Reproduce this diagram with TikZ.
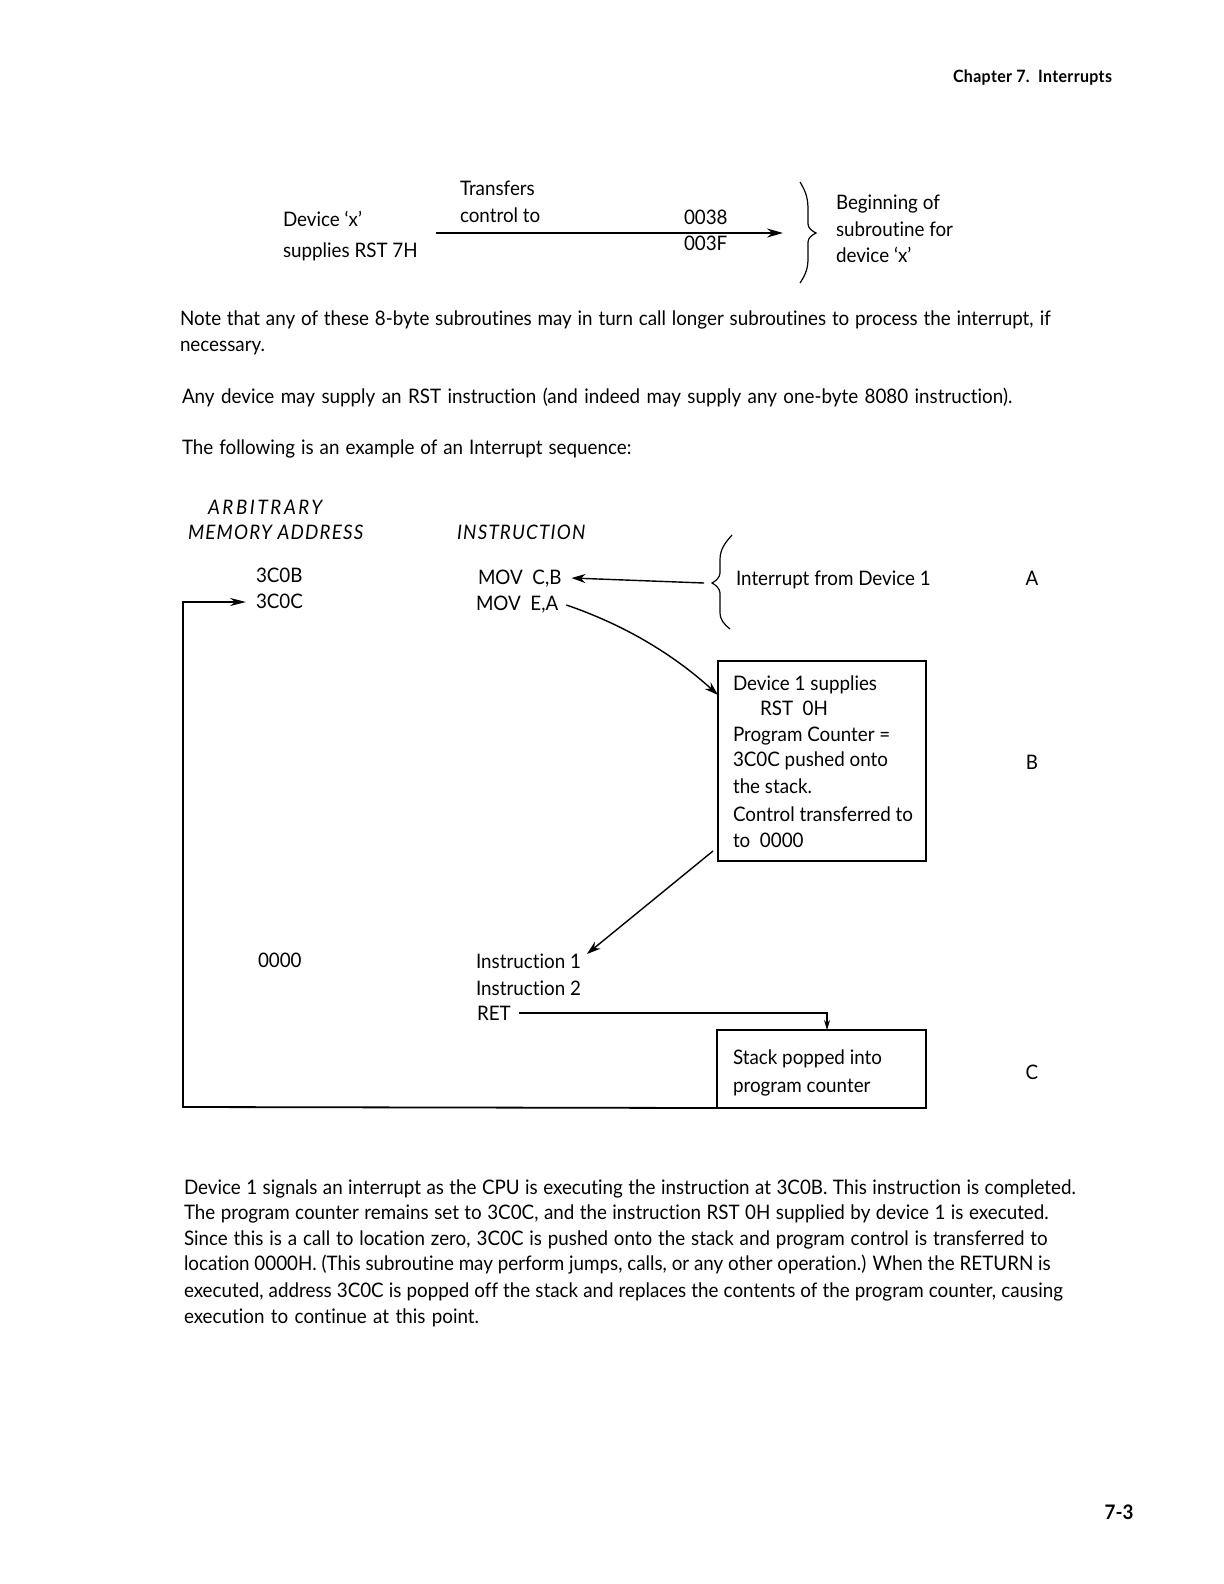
\documentclass[tikz,border=0pt]{standalone}
\usepackage{fontspec}
\setmainfont{Lato}[FakeStretch=0.94,Ligatures=NoCommon]
\usetikzlibrary{arrows.meta}
\newcommand\txt{\fontsize{10}{12}\selectfont}
\newcommand\jline[2]{\makebox[#1][s]{#2}}
\begin{document}
\begin{tikzpicture}[x=0.5pt,y=-0.5pt,
  every node/.style={inner sep=0pt,outer sep=0pt},
  lbl/.style={anchor=base west,font=\txt},
  ctr/.style={anchor=base,font=\txt},
  hdit/.style={anchor=base west,font=\txt\itshape\addfontfeatures{LetterSpace=6}},
  boxst/.style={draw,line width=0.9pt,anchor=north west},
  arr/.style={line width=0.7pt,-{Stealth[length=7pt,width=4.5pt]}},
  brace/.style={line width=0.6pt}]
\useasboundingbox (0,0) rectangle (1224,1584);
% header
\node[anchor=base west,font=\fontsize{8.5}{10}\selectfont\bfseries\addfontfeatures{LetterSpace=2}] (hdr) at (953,83) {Chapter 7.~~Interrupts};
% top diagram
\node[lbl] (transfers) at (460,195) {Transfers};
\node[lbl] (controlto) at (460,222) {control to};
\node[lbl] (devx) at (283,226) {Device ‘x’};
\node[lbl] (supplies) at (283,257) {supplies RST 7H};
\node[lbl] (n38) at (684,224) {0038};
\node[lbl] (n3f) at (684,250) {003F};
\node[lbl] (begin) at (836,209) {Beginning of};
\node[lbl] (subfor) at (836,236) {subroutine for};
\node[lbl] (devx2) at (836,262) {device ‘x’};
\coordinate (ta) at (436,233);
\coordinate (tb) at (783,233);
\draw[line width=1.1pt,-{Stealth[length=8pt,width=4.5pt]}] (ta) -- (tb);
\draw[brace] (800,182) .. controls (806,192) and (808,198) .. (808,210) -- (808,224) .. controls (808,228) and (812,231) .. (816,233)
  .. controls (812,235) and (808,238) .. (808,242) -- (808,258) .. controls (808,268) and (806,274) .. (800,283);
% paragraphs
\node[lbl] (p1) at (180,325) {\jline{435.3pt}{Note that any of these 8-byte subroutines may in turn call longer subroutines to process the interrupt, if}};
\node[lbl] (p1b) at (180,351) {necessary.};
\node[lbl] (p2) at (182,403) {\jline{415.1pt}{Any device may supply an RST instruction (and indeed may supply any one-byte 8080 instruction).}};
\node[lbl] (p3) at (182,454) {\jline{224.7pt}{The following is an example of an Interrupt sequence:}};
% lower diagram
\node[lbl,font=\txt\itshape\addfontfeatures{LetterSpace=13}] (arb) at (208,514) {ARBITRARY};
\node[hdit] (mem) at (188,539) {MEMORY ADDRESS};
\node[hdit] (instr) at (457,539) {INSTRUCTION};
\node[lbl] (a3c0b) at (256,582) {3C0B};
\node[lbl] (a3c0c) at (256,608) {3C0C};
\node[lbl] (movcb) at (478,584) {MOV~~C,B};
\node[lbl] (movea) at (476,610) {MOV~~E,A};
\node[lbl] (intr) at (736,585) {Interrupt from Device 1};
\node[ctr] (la) at (1032,585) {A};
\coordinate (ib) at (704,583);
\draw[arr] (ib) -- ([xshift=5pt,yshift=3pt]movcb.base east);
\draw[brace] (732,535) .. controls (724,544) and (720,550) .. (720,560) -- (720,573) .. controls (720,577) and (716,581) .. (712,583)
  .. controls (716,585) and (720,589) .. (720,593) -- (720,612) .. controls (720,620) and (724,624) .. (730,629);
% box B
\node[boxst,minimum width=104pt,minimum height=100pt] (boxB) at (718,661) {};
\node[lbl] (b1) at (733,690) {Device 1 supplies};
\node[lbl] (b2) at (760,715) {RST~~0H};
\node[lbl] (b3) at (733,741) {Program Counter =};
\node[lbl] (b4) at (733,766) {3C0C pushed onto};
\node[lbl] (b5) at (733,793) {the stack.};
\node[lbl] (b6) at (733,821) {Control transferred to};
\node[lbl] (b7) at (733,847) {to~~0000};
\node[ctr] (lb) at (1032,769) {B};
\draw[arr] ([xshift=4pt,yshift=2.5pt]movea.base east) .. controls (625,625) and (674,655) .. ([yshift=-17pt]boxB.north west);
% lower part
\node[lbl] (a0000) at (258,967) {0000};
\node[lbl] (instr1) at (476,968) {Instruction 1};
\node[lbl] (instr2) at (476,995) {Instruction 2};
\node[lbl] (ret) at (477,1020) {RET};
\draw[arr] ([xshift=-2.5pt,yshift=5pt]boxB.south west) -- ([xshift=3pt,yshift=7pt]instr1.base east);
\node[boxst,minimum width=104.5pt,minimum height=39pt] (boxC) at (717,1030) {};
\node[lbl] (c1) at (733,1064) {Stack popped into};
\node[lbl] (c2) at (733,1092) {program counter};
\node[ctr] (lc) at (1032,1079) {C};
\draw[line width=0.7pt,-{Stealth[length=5pt,width=3pt]}] ([xshift=4pt,yshift=3.5pt]ret.base east) -| ([xshift=-49.5pt]boxC.north east);
\coordinate (lp1) at (183,1107);
\coordinate (lp2) at (183,602);
\draw[line width=0.9pt,-{Stealth[length=8pt,width=4pt]}] (boxC.south west) -- (lp1) -- (lp2) -- ([xshift=-5pt]a3c0c.west |- lp2);
% bottom paragraph
\node[lbl] (q1) at (184,1194) {\jline{445.9pt}{Device 1 signals an interrupt as the CPU is executing the instruction at 3C0B. This instruction is completed.}};
\node[lbl] (q2) at (184,1219) {\jline{432.3pt}{The program counter remains set to 3C0C, and the instruction RST 0H supplied by device 1 is executed.}};
\node[lbl] (q3) at (184,1245) {\jline{431.8pt}{Since this is a call to location zero, 3C0C is pushed onto the stack and program control is transferred to}};
\node[lbl] (q4) at (184,1270) {\jline{433.3pt}{location 0000H. (This subroutine may perform jumps, calls, or any other operation.) When the RETURN is}};
\node[lbl] (q5) at (184,1297) {\jline{439.4pt}{executed, address 3C0C is popped off the stack and replaces the contents of the program counter, causing}};
\node[lbl] (q6) at (184,1323) {\jline{147.5pt}{execution to continue at this point.}};
% page number
\node[anchor=center,font=\fontsize{10}{12}\selectfont\bfseries] (pg) at (1119,1512) {7-3};
\end{tikzpicture}
\end{document}
